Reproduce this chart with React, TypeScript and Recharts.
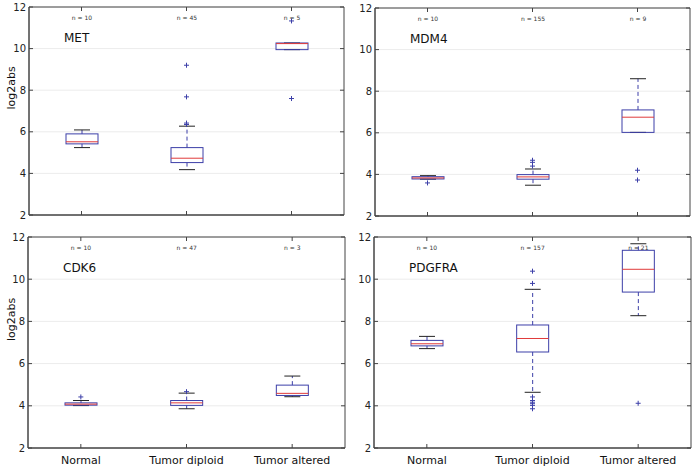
import { ComposedChart, Bar, Scatter, XAxis, YAxis, CartesianGrid, Label, ReferenceArea } from "recharts";

const categories = ["Normal", "Tumor diploid", "Tumor altered"];
const yTicks = [2, 4, 6, 8, 10, 12];

// MET
const metN = [10, 45, 5];
const metLow = [5.24, 4.18, 9.95];
const metQ1 = [5.42, 4.52, 9.95];
const metMed = [5.52, 4.73, 10.24];
const metQ3 = [5.9, 5.24, 10.27];
const metHigh = [6.09, 6.27, 10.27];
const metOut = [[], [9.2, 7.68, 6.42, 6.35], [11.33, 7.6]];

// MDM4
const mdm4N = [10, 155, 9];
const mdm4Low = [3.77, 3.48, 6.02];
const mdm4Q1 = [3.78, 3.77, 6.02];
const mdm4Med = [3.83, 3.88, 6.75];
const mdm4Q3 = [3.89, 3.99, 7.1];
const mdm4High = [3.94, 4.26, 8.6];
const mdm4Out = [[3.59], [4.68, 4.58, 4.4], [4.2, 3.73]];

// CDK6
const cdk6N = [10, 47, 3];
const cdk6Low = [4.01, 3.86, 4.43];
const cdk6Q1 = [4.03, 4.02, 4.49];
const cdk6Med = [4.08, 4.14, 4.59];
const cdk6Q3 = [4.14, 4.25, 4.98];
const cdk6High = [4.25, 4.6, 5.41];
const cdk6Out = [[4.42], [4.67], []];

// PDGFRA
const pdgfraN = [10, 157, 21];
const pdgfraLow = [6.71, 4.64, 8.27];
const pdgfraQ1 = [6.84, 6.55, 9.39];
const pdgfraMed = [6.94, 7.19, 10.47];
const pdgfraQ3 = [7.1, 7.83, 11.37];
const pdgfraHigh = [7.29, 9.52, 11.68];
const pdgfraOut = [[], [10.38, 9.8, 4.42, 4.25, 4.17, 4.1, 4.02, 3.86], [4.12]];

const FONT = "'DejaVu Sans', sans-serif";
const BLUE = "#3c3fa8";
const RED = "#e03a3a";
const FRAME = "#444";

function buildRows(n, low, q1, med, q3, high) {
  return categories.map((cat, i) => ({
    cat,
    range: [low[i], high[i]],
    low: low[i],
    q1: q1[i],
    med: med[i],
    q3: q3[i],
    high: high[i],
    n: n[i],
  }));
}

function buildOutliers(out) {
  const pts = [];
  out.forEach((vals, i) => vals.forEach((v) => pts.push({ cat: categories[i], v })));
  return pts;
}

function BoxShape(props) {
  const { x, y, width, height, payload, gene } = props;
  const [lo, hi] = payload.range;
  const top = Math.min(y, y + height);
  const bot = Math.max(y, y + height);
  const pix = (v) => bot - ((v - lo) * (bot - top)) / (hi - lo);
  const cx = x + width / 2;
  const cap = 8;
  return (
    <g>
      <line x1={cx} x2={cx} y1={pix(payload.q3)} y2={pix(payload.high)} stroke={BLUE} strokeDasharray="4 3" />
      <line x1={cx} x2={cx} y1={pix(payload.q1)} y2={pix(payload.low)} stroke={BLUE} strokeDasharray="4 3" />
      <line x1={cx - cap} x2={cx + cap} y1={pix(payload.high)} y2={pix(payload.high)} stroke="#222" />
      <line x1={cx - cap} x2={cx + cap} y1={pix(payload.low)} y2={pix(payload.low)} stroke="#222" />
      <rect x={x} y={pix(payload.q3)} width={width} height={pix(payload.q1) - pix(payload.q3)} fill="none" stroke={BLUE} />
      <line x1={x} x2={x + width} y1={pix(payload.med)} y2={pix(payload.med)} stroke={RED} />
      <text x={cx} y={pix(11.5)} textAnchor="middle" dominantBaseline="central" fontSize={6} fontFamily={FONT} fill="#333">
        {`n = ${payload.n}`}
      </text>
      {payload.cat === categories[0] && (
        <text x={x - 2} y={pix(10.52)} dominantBaseline="central" fontSize={12} fontFamily={FONT} fill="#111">
          {gene}
        </text>
      )}
    </g>
  );
}

function Plus({ cx, cy }) {
  return (
    <g>
      <line x1={cx - 2.5} x2={cx + 2.5} y1={cy} y2={cy} stroke={BLUE} />
      <line x1={cx} x2={cx} y1={cy - 2.5} y2={cy + 2.5} stroke={BLUE} />
    </g>
  );
}

function Panel({ gene, rows, outliers, left, top, w, h, margin, yw, xh, showX, showYLabel }) {
  const plotW = w - yw - margin.right;
  const plotH = h - margin.top - xh;
  const xTick = ({ x, y, payload }) => (
    <g>
      <line x1={x} x2={x} y1={y} y2={y - 4} stroke={FRAME} />
      <line x1={x} x2={x} y1={y - plotH} y2={y - plotH + 4} stroke={FRAME} />
      {showX && (
        <text x={x} y={y + 12} textAnchor="middle" dominantBaseline="central" fontSize={11} fontFamily={FONT} fill="#111">
          {payload.value}
        </text>
      )}
    </g>
  );
  const yTick = ({ x, y, payload }) => (
    <g>
      <line x1={x} x2={x + 4} y1={y} y2={y} stroke={FRAME} />
      <line x1={x + plotW - 4} x2={x + plotW} y1={y} y2={y} stroke={FRAME} />
      <text x={x - 3} y={y} textAnchor="end" dominantBaseline="central" fontSize={10} fontFamily={FONT} fill="#222">
        {payload.value}
      </text>
    </g>
  );
  const yLabel = (p) => {
    const vb = p.viewBox;
    const cx = vb.x + 11;
    const cy = vb.y + vb.height / 2 - 23;
    return (
      <text x={cx} y={cy} transform={`rotate(-90 ${cx} ${cy})`} textAnchor="middle" dominantBaseline="central" fontSize={11} fontFamily={FONT} fill="#111">
        log2abs
      </text>
    );
  };
  return (
    <div style={{ position: "absolute", left, top }}>
      <ComposedChart width={w} height={h} data={rows} margin={{ top: margin.top, right: margin.right, left: 0, bottom: 0 }}>
        <CartesianGrid vertical={false} stroke="#ececec" />
        <XAxis dataKey="cat" allowDuplicatedCategory={false} height={xh} tickSize={0} tickMargin={0} tickLine={false} axisLine={{ stroke: FRAME }} tick={xTick} interval={0} />
        <YAxis type="number" domain={[2, 12]} ticks={yTicks} width={yw} tickSize={0} tickMargin={0} tickLine={false} axisLine={{ stroke: FRAME }} tick={yTick} interval={0}>
          {showYLabel && <Label content={yLabel} />}
        </YAxis>
        <ReferenceArea y1={2} y2={12} fill="none" stroke={FRAME} strokeWidth={1} fillOpacity={0} />
        <Bar dataKey="range" barSize={32} isAnimationActive={false} shape={(p) => <BoxShape {...p} gene={gene} />} />
        <Scatter data={outliers} dataKey="v" isAnimationActive={false} shape={(p) => <Plus cx={p.cx} cy={p.cy} />} />
      </ComposedChart>
    </div>
  );
}

export default function App() {
  return (
    <div style={{ position: "absolute", left: 0, top: 0, width: 697, height: 468, background: "#fff" }}>
      <Panel gene="MET" rows={buildRows(metN, metLow, metQ1, metMed, metQ3, metHigh)} outliers={buildOutliers(metOut)}
        left={0} top={0} w={348} h={230} margin={{ top: 7, right: 4 }} yw={29} xh={15} showX={false} showYLabel />
      <Panel gene="MDM4" rows={buildRows(mdm4N, mdm4Low, mdm4Q1, mdm4Med, mdm4Q3, mdm4High)} outliers={buildOutliers(mdm4Out)}
        left={348} top={0} w={348} h={230} margin={{ top: 8, right: 6 }} yw={27} xh={14} showX={false} showYLabel={false} />
      <Panel gene="CDK6" rows={buildRows(cdk6N, cdk6Low, cdk6Q1, cdk6Med, cdk6Q3, cdk6High)} outliers={buildOutliers(cdk6Out)}
        left={0} top={230} w={348} h={238} margin={{ top: 7, right: 3 }} yw={28} xh={20} showX showYLabel />
      <Panel gene="PDGFRA" rows={buildRows(pdgfraN, pdgfraLow, pdgfraQ1, pdgfraMed, pdgfraQ3, pdgfraHigh)} outliers={buildOutliers(pdgfraOut)}
        left={348} top={230} w={349} h={238} margin={{ top: 7, right: 6 }} yw={26} xh={20} showX showYLabel={false} />
    </div>
  );
}
